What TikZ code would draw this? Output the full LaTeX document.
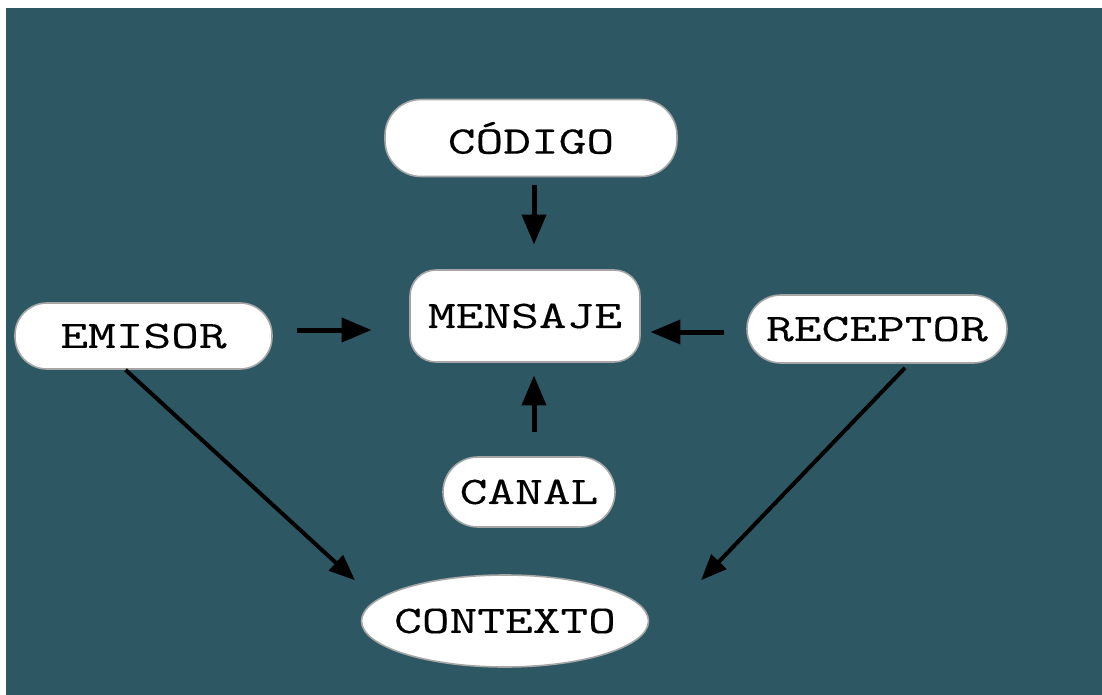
\documentclass[tikz,border=0pt]{standalone}
\usepackage{fontspec}
\newfontfamily\letra{Latin Modern Mono}[FakeStretch=1.38,FakeBold=0.3]
\usetikzlibrary{arrows,shapes.geometric}
\definecolor{fondo}{RGB}{46,87,100}
\begin{document}
\begin{tikzpicture}[>=triangle 45,x=0.5pt,y=-0.5pt]
            \tikzstyle{every node} = [fill=white,draw=gray!70,line width=0.8pt,inner sep=0pt,font=\letra\fontsize{19.5}{20}\selectfont];
            \tikzstyle{caja} = [rectangle,rounded corners=16pt];
            \tikzstyle{flecha} = [->,line width=2.5pt];
            \fill[white] (0,0) rectangle (1102,695);
            \fill[fondo] (6,8) rectangle (1102,695);
            \node[caja,minimum width=146pt,minimum height=38.5pt,rounded corners=18pt] (codigo) at (531, 138) {CÓDIGO};
            \node[caja,minimum width=115pt,minimum height=46pt,rounded corners=13pt] (mensaje) at (525, 316) {MENSAJE};
            \node[caja,minimum width=128.5pt,minimum height=33pt] (emisor) at (143.5, 336) {EMISOR};
            \node[caja,minimum width=130pt,minimum height=34pt,rounded corners=17pt] (receptor) at (877, 329) {RECEPTOR};
            \node[caja,minimum width=86pt,minimum height=35pt,rounded corners=17.5pt] (canal) at (529, 492) {CANAL};
            \node[ellipse,minimum width=143.5pt,minimum height=46pt] (contexto) at (505, 621) {\makebox[0pt]{CONTEXTO}};
            \draw[flecha,shorten <=4pt,shorten >=12.5pt] ([xshift=1.5pt]codigo.south) -- ([xshift=4.5pt]mensaje.north);
            \draw[flecha,shorten <=12pt,shorten >=6.5pt] ([xshift=2.5pt]canal.north) -- ([xshift=4.5pt]mensaje.south);
            \draw[flecha,shorten <=12pt,shorten >=19pt] ([yshift=3pt]emisor.east) -- ([yshift=-7pt]mensaje.west);
            \draw[flecha,shorten <=11pt,shorten >=5pt] ([yshift=-1.5pt]receptor.west) -- ([yshift=-8pt]mensaje.east);
            \draw[flecha,line width=2pt] ([xshift=-9pt]emisor.south) -- ([xshift=-3pt,yshift=20.5pt]contexto.west);
            \draw[flecha,line width=2pt] ([xshift=14pt,yshift=-2pt]receptor.south) -- ([xshift=26pt,yshift=20.5pt]contexto.east);
        \end{tikzpicture}
\end{document}
